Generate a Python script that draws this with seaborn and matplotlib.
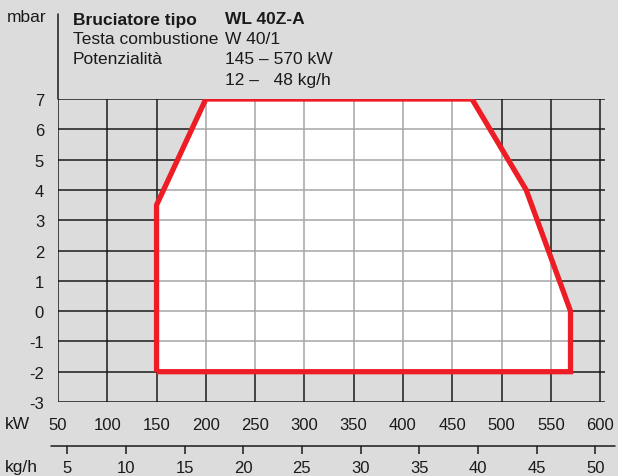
import matplotlib
matplotlib.use("Agg")
import matplotlib.pyplot as plt
from matplotlib.patches import Polygon
from matplotlib.lines import Line2D
import seaborn as sns
import pandas as pd

# Chart Data
kw_points = [150, 150, 200, 470, 525, 570, 570, 150]
mbar_points = [-2, 3.5, 7, 7, 4, 0, -2, -2]
kw_ticks = [50, 100, 150, 200, 250, 300, 350, 400, 450, 500, 550, 600]
mbar_ticks = [-3, -2, -1, 0, 1, 2, 3, 4, 5, 6, 7]
kgh_ticks = [5, 10, 15, 20, 25, 30, 35, 40, 45, 50]
kw_per_kgh = 11.9

df = pd.DataFrame({"kW": kw_points, "mbar": mbar_points})

# Colors
bg = "#dcdcdc"
red = "#ee1c25"

# Style
sns.set_style("white")
plt.rcParams["font.family"] = ["Liberation Sans", "DejaVu Sans"]

W, H = 618, 477
fig = plt.figure(figsize=(W / 100, H / 100), dpi=100, facecolor=bg)
ax = fig.add_axes([58 / W, 74 / H, (605 - 58) / W, (403 - 100) / H])
ax.set_facecolor(bg)
ax.set_xlim(50, 605)
ax.set_ylim(-3, 7)

# Black Grid
for x in kw_ticks:
    ax.axvline(x, color="#1a1a1a", lw=1.1, zorder=1)
for y in mbar_ticks:
    ax.axhline(y, color="#1a1a1a", lw=1.1, zorder=1)

# White Area
poly = Polygon(list(zip(kw_points, mbar_points)), closed=True,
               facecolor="white", edgecolor="none", zorder=2)
ax.add_patch(poly)

# Gray Grid Inside Area
for x in kw_ticks:
    ln = ax.axvline(x, color="#a6a6a6", lw=1.1, zorder=3)
    ln.set_clip_path(poly)
for y in mbar_ticks:
    ln = ax.axhline(y, color="#a6a6a6", lw=1.1, zorder=3)
    ln.set_clip_path(poly)

# Red Outline (no aggregation)
sns.lineplot(data=df, x="kW", y="mbar", sort=False, estimator=None,
             color=red, linewidth=3.8, ax=ax, zorder=4,
             solid_joinstyle="miter", solid_capstyle="butt")

for s in ax.spines.values():
    s.set_visible(False)

# Ticks
ax.set_xticks(kw_ticks)
ax.set_yticks(mbar_ticks)
ax.set_xticklabels([str(v) for v in kw_ticks])
ax.set_yticklabels([str(v) for v in mbar_ticks])
ax.tick_params(axis="both", direction="out", length=6, width=1.1,
               color="#1a1a1a", labelsize=12, labelcolor="#1a1a1a")
ax.tick_params(axis="x", pad=5)
ax.tick_params(axis="y", pad=4)
ax.set_xlabel("")
ax.set_ylabel("")

# Second Axis (kg/h)
sec = ax.secondary_xaxis(-0.145, functions=(lambda v: v / kw_per_kgh,
                                            lambda v: v * kw_per_kgh))
sec.set_xticks(kgh_ticks)
sec.set_xticklabels([str(v) for v in kgh_ticks])
sec.tick_params(direction="out", length=6, width=1.1, color="#1a1a1a",
                labelsize=12, labelcolor="#1a1a1a", pad=4)
sec.spines["bottom"].set_visible(False)

# Extra Lines
fig.add_artist(Line2D([51 / W, 615 / W], [1 - 447 / H, 1 - 447 / H],
                      color="#1a1a1a", lw=1.1))
fig.add_artist(Line2D([58 / W, 58 / W], [1 - 15 / H, 1 - 100 / H],
                      color="#1a1a1a", lw=1.1))

# Texts
def ftext(x, y, s, **kw):
    fig.text(x / W, 1 - y / H, s, va="center", fontsize=12.5,
             color="#1a1a1a", **kw)

ftext(7, 18, "mbar")
ftext(5, 425, "kW")
ftext(5, 468, "kg/h")
ftext(73, 20, "Bruciatore tipo", fontweight="bold")
ftext(225, 20, "WL 40Z-A", fontweight="bold")
ftext(73, 40, "Testa combustione")
ftext(225, 40, "W 40/1")
ftext(73, 60, "Potenzialità")
ftext(225, 60, "145 – 570 kW")
ftext(225, 80, "12 –   48 kg/h")

plt.savefig("out.png", dpi=100, facecolor=bg)
print("Chart Saved: out.png")
